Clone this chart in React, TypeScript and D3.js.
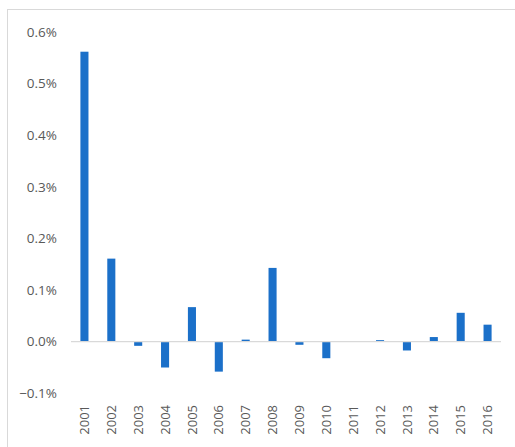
import React, { useEffect, useRef } from "react";
import * as d3 from "d3";

const years = ["2001","2002","2003","2004","2005","2006","2007","2008","2009","2010","2011","2012","2013","2014","2015","2016"];
const values = [0.562, 0.161, -0.008, -0.05, 0.067, -0.058, 0.004, 0.143, -0.006, -0.032, 0, 0.003, -0.017, 0.009, 0.056, 0.033];
const yTicks = [-0.1, 0, 0.1, 0.2, 0.3, 0.4, 0.5, 0.6];

const W = 515;
const H = 447;

export default function App() {
  const ref = useRef<SVGSVGElement>(null);
  useEffect(() => {
    const svg = d3.select(ref.current);
    svg.selectAll("*").remove();

    // chart border (top & left visible)
    svg.append("rect")
      .attr("x", 7.5).attr("y", 9.5)
      .attr("width", W + 20).attr("height", H + 20)
      .attr("fill", "#fff").attr("stroke", "#d9d9d9").attr("stroke-width", 1);

    const x = d3.scaleBand<string>().domain(years).range([71, 501]).paddingInner(0.7).paddingOuter(0.35);
    const y = d3.scaleLinear().domain([-0.1, 0.6]).range([393.3, 32.1]);

    svg.append("g").selectAll("rect").data(values).join("rect")
      .attr("x", (_, i) => x(years[i])!)
      .attr("width", x.bandwidth())
      .attr("y", d => y(Math.max(0, d)))
      .attr("height", d => Math.max(Math.abs(y(d) - y(0)), d === 0 ? 0 : 0.8))
      .attr("fill", "#1B70C9");

    svg.append("line")
      .attr("x1", 71).attr("x2", 501)
      .attr("y1", y(0)).attr("y2", y(0))
      .attr("stroke", "#d9d9d9").attr("stroke-width", 1.3);

    svg.append("g").selectAll("text").data(yTicks).join("text")
      .attr("x", 57).attr("y", d => y(d))
      .attr("dy", "0.35em")
      .attr("text-anchor", "end")
      .attr("font-family", "'Open Sans', sans-serif")
      .attr("font-size", 13.5)
      .attr("fill", "#595959")
      .text(d => d3.format(".1f")(d) + "%");

    svg.append("g").selectAll("text").data(years).join("text")
      .attr("transform", d => `translate(${x(d)! + x.bandwidth() / 2},405) rotate(-90)`)
      .attr("dy", "0.35em")
      .attr("text-anchor", "end")
      .attr("font-family", "'Open Sans', sans-serif")
      .attr("font-size", 13)
      .attr("fill", "#595959")
      .text(d => d);
  }, []);
  return (
    <svg ref={ref} width={W} height={H} style={{ position: "absolute", left: 0, top: 0, display: "block" }} />
  );
}
